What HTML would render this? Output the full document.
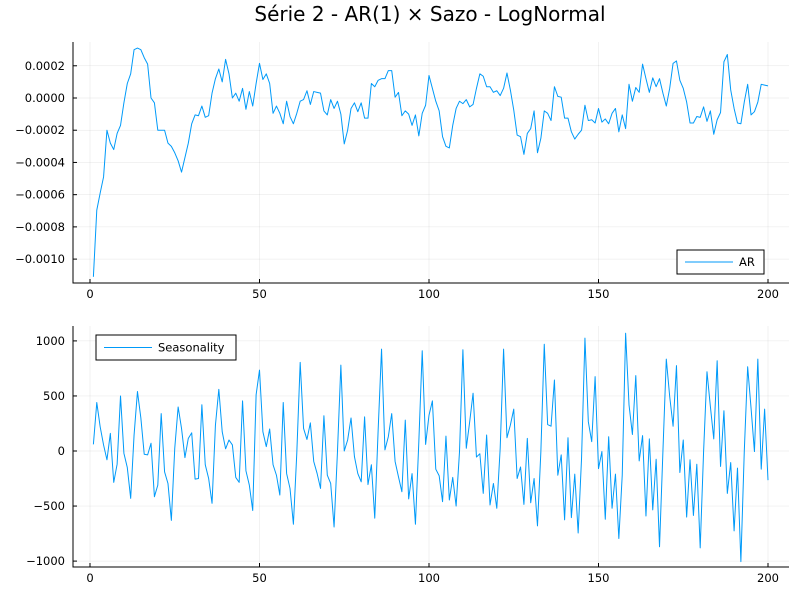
<!DOCTYPE html>
<html><head><meta charset="utf-8"><style>
body{margin:0;background:#fff;}
svg{display:block;font-family:"DejaVu Sans","Liberation Sans",sans-serif;}
</style></head><body>
<svg id="chart" width="800" height="600" xmlns="http://www.w3.org/2000/svg">
<rect width="800" height="600" fill="#fff"/>
<text x="430" y="21" font-size="20" text-anchor="middle" fill="#000">Série 2 - AR(1) × Sazo - LogNormal</text>
<g id="top"></g>
<g id="bot"></g>
</svg>
<script>
const xTicks = [0, 50, 100, 150, 200];
const arTicks = [2, 0, -2, -4, -6, -8, -10];
const arTickLabels = ["0.0002","0.0000","−0.0002","−0.0004","−0.0006","−0.0008","−0.0010"];
const seasTicks = [1000, 500, 0, -500, -1000];
const seasTickLabels = ["1000","500","0","−500","−1000"];
// AR values in units of 1e-4
const arValues = [-11.1,-6.96,-5.9,-4.9,-2.0,-2.8,-3.2,-2.2,-1.7,-0.3,0.9,1.5,3.0,3.1,3.0,2.5,2.1,0,-0.3,-2.0,
-2.0,-2.0,-2.8,-3.0,-3.4,-3.9,-4.6,-3.7,-2.8,-1.6,-1.05,-1.1,-0.5,-1.2,-1.1,0.3,1.2,1.8,1.0,2.4,
1.5,0,0.3,-0.2,0.6,-0.7,0.4,-0.5,0.9,2.15,1.15,1.5,0.9,-0.95,-0.5,-0.95,-1.6,-0.2,-1.15,-1.6,
-0.95,-0.2,-0.1,0.45,-0.4,0.4,0.35,0.3,-0.8,-1.05,-0.1,-0.65,-0.2,-1.0,-2.85,-2.0,-0.65,-0.3,-0.85,-0.3,
-1.25,-1.25,0.9,0.7,1.1,1.2,1.2,1.7,1.7,0.05,0.35,-1.1,-0.8,-1.0,-1.7,-1.05,-2.35,-0.95,-0.45,1.4,
0.6,-0.2,-0.8,-2.4,-3.0,-3.1,-1.7,-0.65,-0.2,-0.35,-0.1,-0.55,-0.4,0.6,1.5,1.35,0.7,0.7,0.35,0.45,
0.15,0.6,1.55,0.5,-0.75,-2.3,-2.4,-3.5,-2.2,-1.9,-0.8,-3.4,-2.5,-0.8,-0.95,-1.4,0.7,0.1,0.05,-1.25,
-1.25,-2.1,-2.55,-2.25,-2.0,-0.45,-1.4,-1.35,-1.55,-0.65,-1.5,-1.3,-1.6,-0.95,-0.65,-2.1,-1.05,-1.9,0.85,-0.2,
0.65,0.35,2.1,1.2,0.35,1.25,0.7,1.2,0.3,-0.5,0.6,2.15,2.3,1.1,0.6,-0.25,-1.55,-1.55,-1.15,-1.2,
-0.55,-1.45,-0.8,-2.25,-1.35,-0.9,2.25,2.7,0.5,-0.65,-1.55,-1.6,-0.25,0.85,-1.05,-0.85,-0.25,0.85,0.8,0.75];
const seasValues = [60,440,220,55,-80,160,-285,-120,500,-20,-150,-430,145,540,300,-30,-35,70,-415,-310,
340,-190,-295,-630,25,400,205,-60,115,165,-255,-250,420,-125,-250,-475,235,560,175,20,
100,55,-240,-285,455,-180,-310,-540,510,735,175,40,200,-125,-220,-400,440,-205,-340,-665,
-20,805,205,105,255,-95,-205,-340,320,-220,-295,-690,-5,780,0,100,300,-50,-205,-280,
310,-305,-125,-610,190,925,10,130,340,-95,-235,-370,280,-435,-205,-665,85,910,60,325,
455,-165,-225,-460,135,-445,-240,-500,-5,920,25,265,525,-55,-25,-385,145,-490,-295,-520,
25,925,120,235,380,-250,-145,-485,115,-470,-250,-680,-5,970,240,225,645,-220,-35,-625,
120,-605,-210,-745,-65,1025,265,85,675,-160,-5,-620,130,-520,-210,-795,-220,1070,420,150,
685,-90,140,-590,110,-535,-75,-870,-5,835,495,225,775,-195,100,-600,-80,-585,-120,-880,
-5,720,405,110,820,-140,365,-385,-105,-725,-155,-1005,-5,765,390,-5,835,-165,380,-265];

const NS="http://www.w3.org/2000/svg";
function mk(parent, tag, attrs){const e=document.createElementNS(NS,tag);for(const k in attrs)e.setAttribute(k,attrs[k]);parent.appendChild(e);return e;}
const xs = v => 90 + v*3.39;
function panel(g, left, top, right, bottom, yScale, yt, ytl, vals, legend){
  for(const t of xTicks){
    const l=mk(g,'line',{x1:xs(t),x2:xs(t),y1:top,y2:bottom,stroke:'#000','stroke-opacity':0.1,'stroke-width':0.5});
    
    
    const tk=mk(g,'line',{x1:xs(t),x2:xs(t),y1:bottom,y2:bottom-4,stroke:'#000','stroke-width':1});
    
    
    const tx=mk(g,'text',{x:xs(t),y:bottom+15,'font-size':11.5,'text-anchor':'middle',fill:'#000'});
    tx.textContent=t;
    
    
  }
  yt.forEach((t,i)=>{
    const y=yScale(t);
    const l=mk(g,'line',{x1:left,x2:right,y1:y,y2:y,stroke:'#000','stroke-opacity':0.1,'stroke-width':0.5});
    
    
    const tk=mk(g,'line',{x1:left,x2:left+4,y1:y,y2:y,stroke:'#000','stroke-width':1});
    
    
    const tx=mk(g,'text',{x:left-8,y:y+4,'font-size':11.5,'text-anchor':'end',fill:'#000'});
    tx.textContent=ytl[i];
    
    
  });
  const ax=mk(g,'path',{d:`M${left},${top}V${bottom}H${right}`,stroke:'#000','stroke-width':1,fill:'none'});
  
  
  const d=vals.map((v,i)=>(i?'L':'M')+xs(i+1).toFixed(2)+','+yScale(v).toFixed(2)).join('');
  const p=mk(g,'path',{d:d,stroke:'#009af9','stroke-width':1,fill:'none','stroke-linejoin':'round'});
  
  
  const lg=mk(g,'g',{});
  
  
  mk(lg,'rect',{x:legend.x,y:legend.y,width:legend.w,height:legend.h,fill:'#fff',stroke:'#000','stroke-width':1});
  mk(lg,'line',{x1:legend.x+8,x2:legend.x+8+legend.lw,y1:legend.y+legend.h/2,y2:legend.y+legend.h/2,stroke:'#009af9','stroke-width':1});
  const lt=mk(lg,'text',{x:legend.x+14+legend.lw,y:legend.y+legend.h/2+4,'font-size':11.5,fill:'#000'});
  lt.textContent=legend.label;
}
panel(document.getElementById('top'),73,42,789,283,v=>98-v*16.11,arTicks,arTickLabels,arValues,{x:677,y:250,w:87,h:24,lw:48,label:'AR'});
panel(document.getElementById('bot'),73,326,789,567,v=>451-v*0.1101,seasTicks,seasTickLabels,seasValues,{x:96,y:335,w:140,h:25,lw:48,label:'Seasonality'});
</script>
</body></html>
